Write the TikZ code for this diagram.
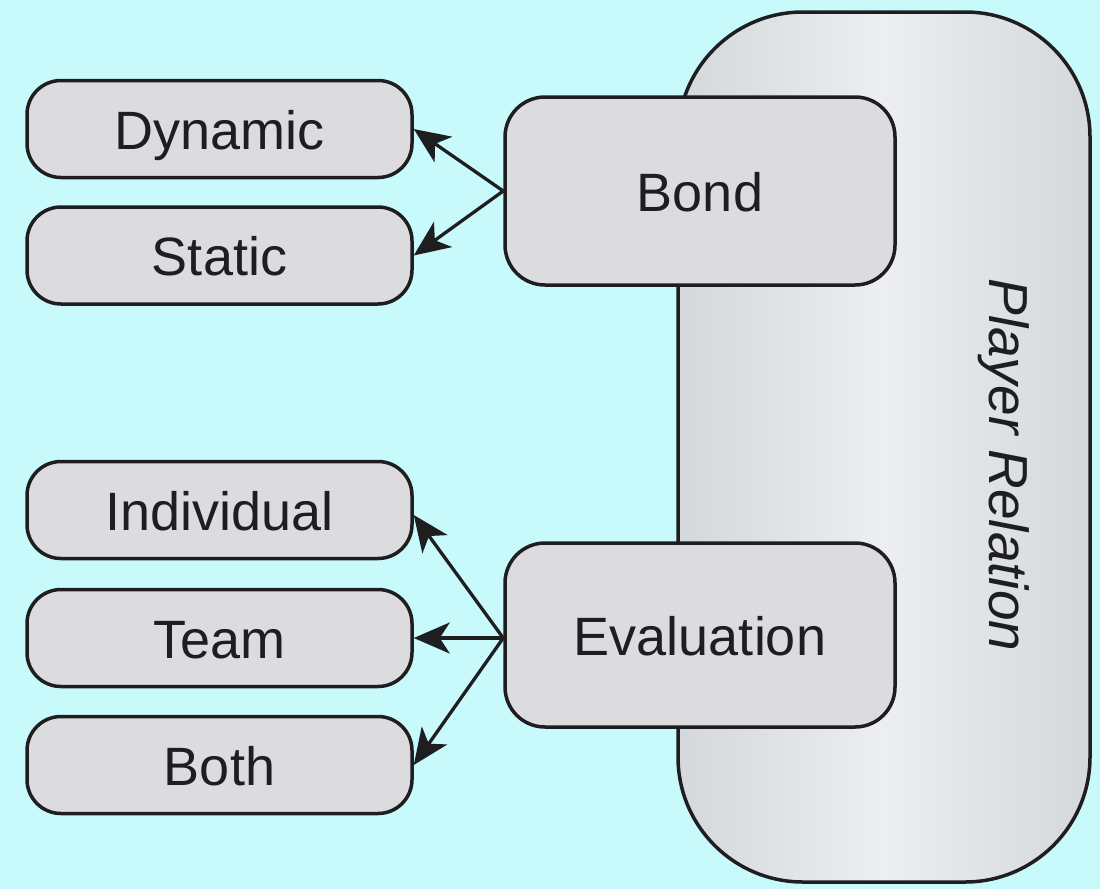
\documentclass[tikz,border=0pt]{standalone}
\usepackage{fontspec}
\setmainfont{Liberation Sans}
\usetikzlibrary{arrows.meta}
\definecolor{bgcyan}{RGB}{200,250,252}
\definecolor{boxgray}{RGB}{220,220,223}
\definecolor{edgegray}{RGB}{212,216,219}
\definecolor{midgray}{RGB}{236,238,240}
\definecolor{inkdark}{RGB}{30,30,32}
\tikzset{
  leaf/.style={draw=inkdark, line width=3.5pt, fill=boxgray, rounded corners=34pt,
    minimum width=385pt, minimum height=97pt, inner sep=0pt,
    text height=40pt, text depth=0pt,
    text=inkdark, font=\fontsize{54}{60}\selectfont},
  hub/.style={leaf, rounded corners=40pt, minimum width=390pt},
  link/.style={draw=inkdark, line width=3.3pt,
    -{Stealth[length=36pt, width=31pt, inset=10pt]}}
}
\begin{document}
\begin{tikzpicture}[x=1pt, y=-1pt]
  \path[fill=bgcyan] (0,0) rectangle (1100,889);
  \useasboundingbox (0,0) rectangle (1100,889);

  % the large container behind the two hubs
  \node[draw=inkdark, line width=3.5pt, rounded corners=125pt,
        left color=edgegray, right color=edgegray, middle color=midgray,
        minimum width=412pt, minimum height=870pt, inner sep=0pt]
        (rel) at (884,447) {};
  \node[rotate=-90, text=inkdark, font=\fontsize{55}{60}\selectfont\itshape]
        (reltext) at (1004,465) {Player Relation};

  % hubs
  \node[hub, minimum height=188pt] (bond) at (700,191) {Bond};
  \node[hub, minimum height=184pt] (eval) at (700,635) {Evaluation};

  % leaves
  \node[leaf] (dyn)  at (219.5,129) {Dynamic};
  \node[leaf] (stat) at (219.5,255.5) {Static};
  \node[leaf] (ind)  at (219.5,510) {Individual};
  \node[leaf] (team) at (219.5,638) {Team};
  \node[leaf] (both) at (219.5,765) {Both};

  % connectors
  \coordinate (bondsrc) at (bond.west);
  \coordinate (evalsrc) at ([yshift=-3pt]eval.west);
  \draw[link] (bondsrc) -- (dyn.east);
  \draw[link] (bondsrc) -- (stat.east);
  \draw[link] (evalsrc) -- ([yshift=-5pt]ind.east);
  \draw[link] (evalsrc) -- (team.east);
  \draw[link] (evalsrc) -- (both.east);
\end{tikzpicture}
\end{document}
